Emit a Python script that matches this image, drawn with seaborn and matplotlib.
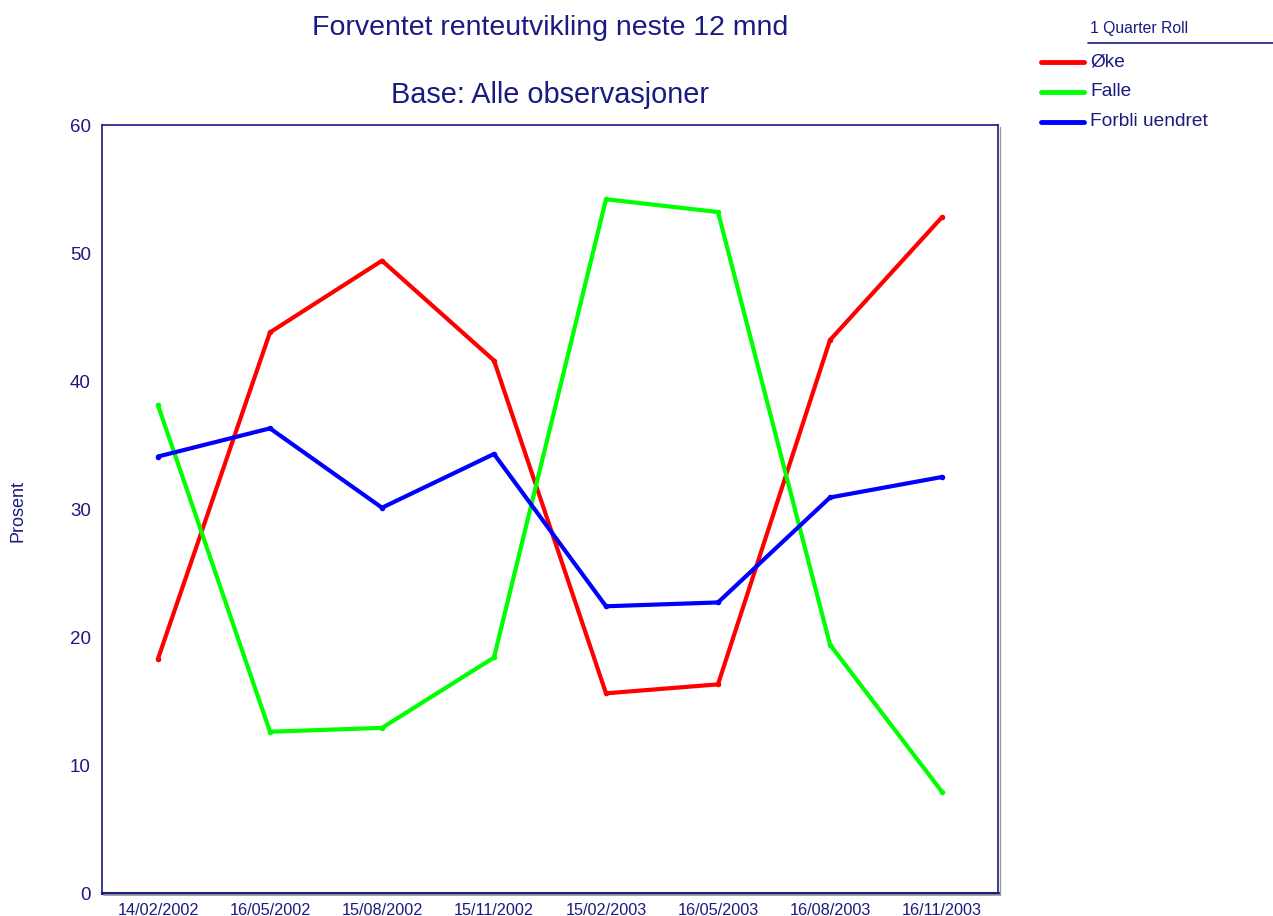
import pandas as pd
import matplotlib
matplotlib.use("Agg")
import matplotlib.pyplot as plt
from matplotlib.lines import Line2D
import seaborn as sns

# Data
dates = ["14/02/2002", "16/05/2002", "15/08/2002", "15/11/2002",
         "15/02/2003", "16/05/2003", "16/08/2003", "16/11/2003"]
oke = [18.3, 43.8, 49.4, 41.6, 15.6, 16.3, 43.2, 52.8]
falle = [38.1, 12.6, 12.9, 18.4, 54.2, 53.2, 19.4, 7.9]
forbli = [34.1, 36.3, 30.1, 34.3, 22.4, 22.7, 30.9, 32.5]
series_names = ["Øke", "Falle", "Forbli uendret"]
colors = {"Øke": "#ff0000", "Falle": "#00ff00", "Forbli uendret": "#0000ff"}

NAVY = "#1a1a80"
W, H = 1273, 916

sns.set_style("white")
plt.rcParams['font.family'] = ['Liberation Sans', 'DejaVu Sans']

rows = []
for name, vals in zip(series_names, [oke, falle, forbli]):
    for i, v in enumerate(vals):
        rows.append({"pos": i, "date": dates[i], "value": v, "series": name})
df = pd.DataFrame(rows)

fig = plt.figure(figsize=(W / 100, H / 100), dpi=100)
ax = fig.add_axes([102 / W, 1 - 893 / H, 896 / W, 768 / H])

sns.lineplot(data=df, x="pos", y="value", hue="series", hue_order=series_names,
             palette=colors, linewidth=3, marker="o", markersize=4,
             markeredgewidth=0, legend=False, ax=ax)

ax.set_xlim(-0.5, len(dates) - 0.5)
ax.set_ylim(0, 60)
ax.set_xticks(range(len(dates)))
ax.set_xticklabels(dates)
ax.set_yticks(range(0, 61, 10))
ax.set_xlabel("")
ax.set_ylabel("")
ax.tick_params(axis="y", colors=NAVY, labelcolor=NAVY, labelsize=13.5,
               length=5, width=1, direction="out", pad=3)
ax.tick_params(axis="x", colors=NAVY, labelcolor=NAVY, labelsize=11.7,
               length=5, width=1, direction="out", pad=2)
for side, sp in ax.spines.items():
    sp.set_color(NAVY)
    sp.set_linewidth(1.2)
ax.spines["bottom"].set_linewidth(2.2)

# grey drop shadow on right and bottom of the plot frame
fig.add_artist(Line2D([999.5 / W, 999.5 / W], [1 - 127 / H, 1 - 895 / H],
                      color="#999999", linewidth=1, transform=fig.transFigure))
fig.add_artist(Line2D([104 / W, 1000 / W], [1 - 895 / H, 1 - 895 / H],
                      color="#999999", linewidth=1.2, transform=fig.transFigure))

fig.text(18 / W, 1 - 511 / H, "Prosent", rotation=90, ha="center", va="center",
         color=NAVY, fontsize=13)

# Titles
fig.text(550 / W, 1 - 28 / H, "Forventet renteutvikling neste 12 mnd",
         ha="center", va="center", color=NAVY, fontsize=20.5)
fig.text(550 / W, 1 - 95 / H, "Base: Alle observasjoner",
         ha="center", va="center", color=NAVY, fontsize=20.8)

# Legend
fig.text(1090 / W, 1 - 28 / H, "1 Quarter Roll", ha="left", va="center",
         color=NAVY, fontsize=11.3)
fig.add_artist(Line2D([1088 / W, 1.0], [1 - 43 / H, 1 - 43 / H],
                      color=NAVY, linewidth=1.2, transform=fig.transFigure))
for k, name in enumerate(series_names):
    y = 1 - (62 + 30 * k) / H
    fig.add_artist(Line2D([1041 / W, 1084 / W], [y, y], color=colors[name],
                          linewidth=3.5, solid_capstyle="round",
                          transform=fig.transFigure))
    fig.text(1090 / W, y, name, ha="left", va="center", color=NAVY, fontsize=13.8)

fig.savefig("out.png", dpi=100)
